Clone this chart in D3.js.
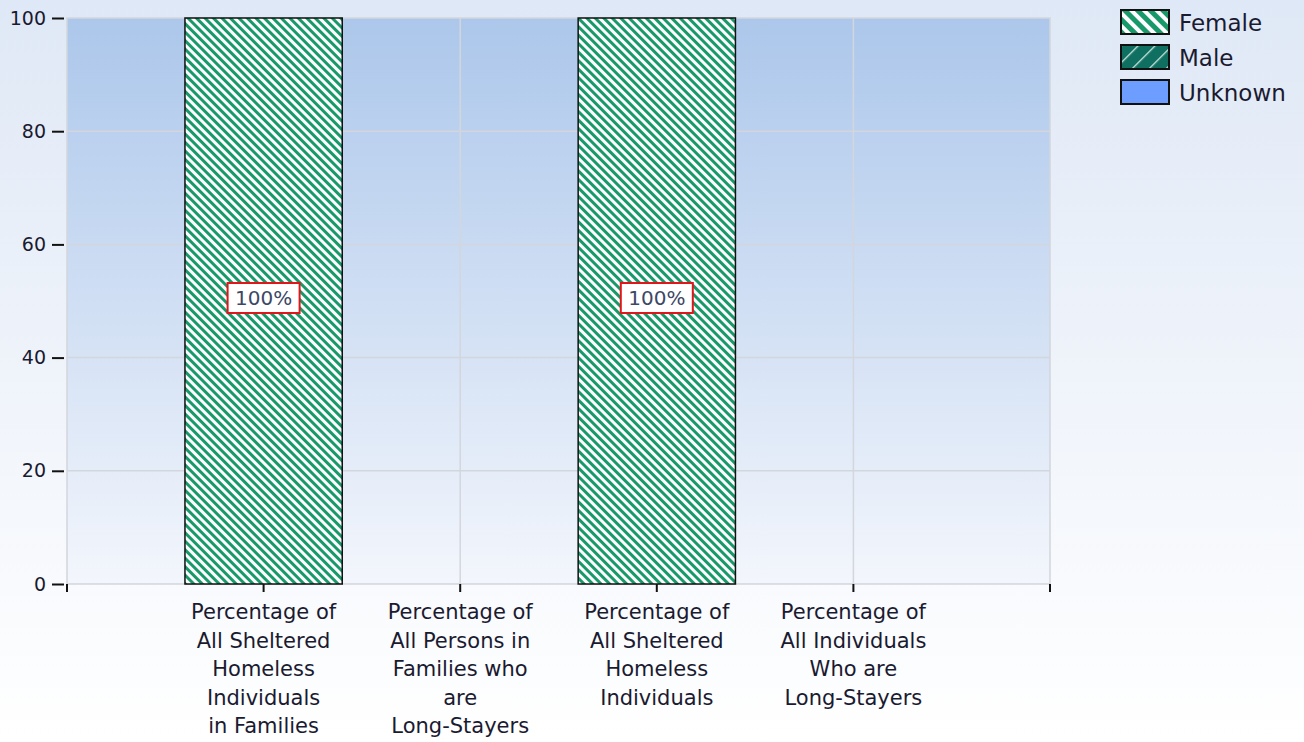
<!DOCTYPE html>
<html>
<head>
<meta charset="utf-8">
<script src="https://cdn.jsdelivr.net/npm/d3@7"></script>
<style>
  body { margin: 0; background: #fff; }
  svg text { font-family: "DejaVu Sans", Verdana, sans-serif; fill: #1a1a30; }
</style>
</head>
<body>
<svg id="chart" width="1304" height="742"></svg>
<script>
const categories = [
  ["Percentage of", "All Sheltered", "Homeless", "Individuals", "in Families"],
  ["Percentage of", "All Persons in", "Families who", "are", "Long-Stayers"],
  ["Percentage of", "All Sheltered", "Homeless", "Individuals"],
  ["Percentage of", "All Individuals", "Who are", "Long-Stayers"]
];
const seriesNames = ["Female", "Male", "Unknown"];
const female = [100, 0, 100, 0];
const male = [0, 0, 0, 0];
const unknown = [0, 0, 0, 0];
const yTicks = [0, 20, 40, 60, 80, 100];

const svg = d3.select("#chart");
const width = +svg.attr("width");
const height = +svg.attr("height");
const margin = { top: 18, left: 67, right: 254, bottom: 158 };
const innerW = width - margin.left - margin.right;
const innerH = height - margin.top - margin.bottom;

const defs = svg.append("defs");

// page background
const pg = defs.append("linearGradient").attr("id", "pageGrad").attr("x1", 0).attr("y1", 0).attr("x2", 0).attr("y2", 1);
pg.append("stop").attr("offset", "0%").attr("stop-color", "#dfe8f6");
pg.append("stop").attr("offset", "100%").attr("stop-color", "#ffffff");

// plot background
const pl = defs.append("linearGradient").attr("id", "plotGrad").attr("x1", 0).attr("y1", 0).attr("x2", 0).attr("y2", 1);
pl.append("stop").attr("offset", "0%").attr("stop-color", "#acc7eb");
pl.append("stop").attr("offset", "100%").attr("stop-color", "#f3f6fc");

// female hatch ( \ direction )
const fp = defs.append("pattern").attr("id", "femalePat").attr("patternUnits", "userSpaceOnUse")
  .attr("width", 6).attr("height", 6).attr("patternTransform", "rotate(-45)");
fp.append("rect").attr("width", 6).attr("height", 6).attr("fill", "#ffffff");
fp.append("rect").attr("width", 3).attr("height", 6).attr("fill", "#18996a");

const fpl = defs.append("pattern").attr("id", "femaleLeg").attr("patternUnits", "userSpaceOnUse")
  .attr("width", 9).attr("height", 9).attr("patternTransform", "rotate(-45)");
fpl.append("rect").attr("width", 9).attr("height", 9).attr("fill", "#ffffff");
fpl.append("rect").attr("width", 5).attr("height", 9).attr("fill", "#18996a");

// male hatch ( / direction )
const mp = defs.append("pattern").attr("id", "malePat").attr("patternUnits", "userSpaceOnUse")
  .attr("width", 12).attr("height", 12).attr("patternTransform", "rotate(45)");
mp.append("rect").attr("width", 12).attr("height", 12).attr("fill", "#0f6f60");
mp.append("rect").attr("width", 1.3).attr("height", 12).attr("fill", "#cfe8e2");

const colors = { Female: "url(#femalePat)", Male: "url(#malePat)", Unknown: "#6d9eff" };
const legendFill = { Female: "url(#femaleLeg)", Male: "url(#malePat)", Unknown: "#6d9eff" };

svg.append("rect").attr("width", width).attr("height", height).attr("fill", "url(#pageGrad)");

const g = svg.append("g").attr("transform", `translate(${margin.left},${margin.top})`);

const x = d3.scalePoint().domain(d3.range(categories.length)).range([0, innerW]).padding(1);
const y = d3.scaleLinear().domain([0, 100]).range([innerH, 0]);

g.append("rect").attr("width", innerW).attr("height", innerH)
  .attr("fill", "url(#plotGrad)").attr("stroke", "#d2d6dc").attr("stroke-width", 1.5);

// gridlines
g.selectAll(".hgrid").data(yTicks.slice(1, -1)).enter().append("line")
  .attr("x1", 0).attr("x2", innerW).attr("y1", d => y(d)).attr("y2", d => y(d))
  .attr("stroke", "#d3d6dc").attr("stroke-width", 1.5);
g.selectAll(".vgrid").data(x.domain()).enter().append("line")
  .attr("x1", d => x(d)).attr("x2", d => x(d)).attr("y1", 0).attr("y2", innerH)
  .attr("stroke", "#d3d6dc").attr("stroke-width", 1.5);

// stacked bars
const rows = categories.map((c, i) => ({ i: i, Female: female[i], Male: male[i], Unknown: unknown[i] }));
const stack = d3.stack().keys(seriesNames)(rows);
const barW = x.step() * 0.8;

stack.forEach(layer => {
  g.selectAll(null).data(layer.filter(d => d[1] - d[0] > 0)).enter().append("rect")
    .attr("x", d => x(d.data.i) - barW / 2)
    .attr("width", barW)
    .attr("y", d => y(d[1]))
    .attr("height", d => y(d[0]) - y(d[1]))
    .attr("fill", colors[layer.key])
    .attr("stroke", "#111").attr("stroke-width", 1.5);
});

// value labels
const labels = rows.filter(d => d.Female > 0);
const lab = g.selectAll(".lab").data(labels).enter().append("g")
  .attr("transform", d => `translate(${x(d.i)},${y(d.Female / 2) - 3})`);
lab.append("rect").attr("x", -36).attr("y", -15).attr("width", 72).attr("height", 30)
  .attr("fill", "#fff").attr("stroke", "#e0161b").attr("stroke-width", 2);
lab.append("text").attr("text-anchor", "middle").attr("dy", "0.36em")
  .style("font-size", "20px").style("fill", "#3c4866").text(d => d.Female + "%");

// y axis
const yAxis = g.append("g").call(d3.axisLeft(y).tickValues(yTicks).tickSize(13).tickPadding(3));
yAxis.select(".domain").remove();
yAxis.selectAll(".tick line").attr("stroke", "#111").attr("stroke-width", 2).attr("x2", -3).attr("x1", -15);
yAxis.selectAll(".tick text").style("font-size", "19px").attr("x", -21);

// x axis ticks
const xt = [0, innerW].concat(x.domain().map(d => x(d)));
g.selectAll(".xtick").data(xt).enter().append("line")
  .attr("x1", d => d).attr("x2", d => d).attr("y1", innerH).attr("y2", innerH + 8)
  .attr("stroke", "#111").attr("stroke-width", 2);

// x labels
const xl = g.selectAll(".xlab").data(categories).enter().append("text")
  .attr("text-anchor", "middle").style("font-size", "21px")
  .attr("transform", (d, i) => `translate(${x(i)},${innerH + 35})`);
xl.selectAll("tspan").data(d => d).enter().append("tspan")
  .attr("x", 0).attr("dy", (d, i) => i === 0 ? 0 : 28.6).text(d => d);

// legend
const leg = svg.append("g").attr("transform", "translate(1121,10)");
seriesNames.forEach((s, i) => {
  const r = leg.append("g").attr("transform", `translate(0,${i * 35})`);
  r.append("rect").attr("width", 48).attr("height", 24).attr("fill", legendFill[s])
    .attr("stroke", "#111").attr("stroke-width", 2);
  r.append("text").attr("x", 58).attr("y", 13).attr("dy", "0.36em")
    .style("font-size", "23px").text(s);
});
</script>
</body>
</html>
